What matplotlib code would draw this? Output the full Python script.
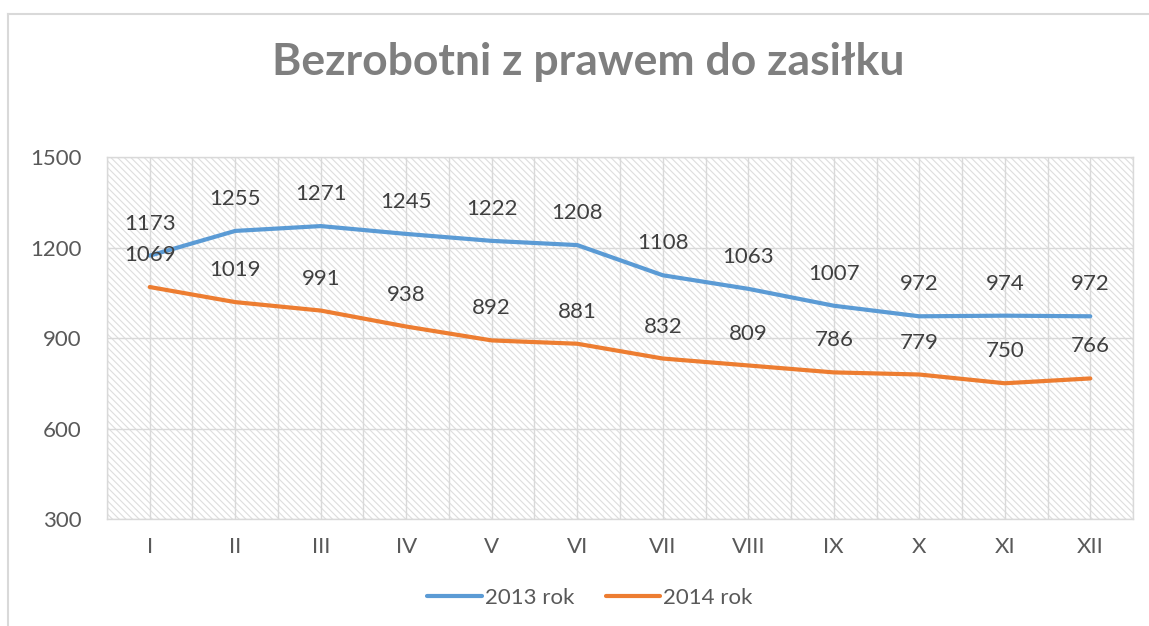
import matplotlib
matplotlib.use("Agg")
import matplotlib.pyplot as plt
from matplotlib.patches import Rectangle
from matplotlib.lines import Line2D

# data
months = ["I", "II", "III", "IV", "V", "VI", "VII", "VIII", "IX", "X", "XI", "XII"]
rok_2013 = [1173, 1255, 1271, 1245, 1222, 1208, 1108, 1063, 1007, 972, 974, 972]
rok_2014 = [1069, 1019, 991, 938, 892, 881, 832, 809, 786, 779, 750, 766]
y_ticks = [300, 600, 900, 1200, 1500]

plt.rcParams.update({
    "font.family": ["Lato", "DejaVu Sans"],
    "hatch.linewidth": 0.8,
})

GRID = "#d9d9d9"
TXT = "#595959"
FS = 16

fig = plt.figure(figsize=(11.49, 6.26), dpi=100)
ax = fig.add_axes([0.0931, 0.1709, 0.8930, 0.5783])

# hatched plot-area background
bg = Rectangle((0, 0), 1, 1, transform=ax.transAxes, facecolor="white",
               edgecolor="#dedede", hatch="\\\\\\\\\\", linewidth=0, zorder=0)
ax.add_patch(bg)

x = list(range(len(months)))
ax.plot(x, rok_2013, color="#5B9BD5", linewidth=3.0, solid_capstyle="round",
        zorder=3, label="2013 rok")
ax.plot(x, rok_2014, color="#ED7D31", linewidth=3.0, solid_capstyle="round",
        zorder=3, label="2014 rok")

for xi, v in zip(x, rok_2013):
    ax.annotate(f"{v}", (xi, v), textcoords="offset points", xytext=(0, 23),
                ha="center", va="center", fontsize=FS, color="#404040", zorder=4)
for xi, v in zip(x, rok_2014):
    ax.annotate(f"{v}", (xi, v), textcoords="offset points", xytext=(0, 23),
                ha="center", va="center", fontsize=FS, color="#404040", zorder=4)

ax.set_xlim(-0.5, len(months) - 0.5)
ax.set_ylim(300, 1500)
ax.set_yticks(y_ticks)
ax.set_xticks(x)
ax.set_xticklabels(months)
ax.set_xticks([i - 0.5 for i in range(len(months) + 1)], minor=True)
ax.tick_params(axis="both", which="both", length=0, labelsize=FS, colors=TXT)
ax.tick_params(axis="y", pad=18)
ax.tick_params(axis="x", pad=13)
ax.grid(True, which="both", axis="x", color=GRID, linewidth=1, zorder=1)
ax.grid(True, which="major", axis="y", color=GRID, linewidth=1, zorder=1)
ax.set_axisbelow(True)
for sp in ax.spines.values():
    sp.set_color(GRID)
    sp.set_linewidth(1)

fig.text(0.512, 0.901, "Bezrobotni z prawem do zasiłku", ha="center", va="center",
         fontsize=32, fontweight="bold", color="#7f7f7f")

handles = [Line2D([], [], color="#5B9BD5", linewidth=3.0, solid_capstyle="round"),
           Line2D([], [], color="#ED7D31", linewidth=3.0, solid_capstyle="round")]
fig.legend(handles, ["2013 rok", "2014 rok"], loc="center", bbox_to_anchor=(0.5135, 0.045),
           ncol=2, frameon=False, fontsize=FS, labelcolor=TXT, handlelength=2.45,
           handletextpad=0.15, columnspacing=1.4)

# outer chart frame (only top and left edges visible)
fig.add_artist(Line2D([8 / 1149, 8 / 1149], [0, 1 - 14 / 626], color=GRID, linewidth=1.5,
                      transform=fig.transFigure))
fig.add_artist(Line2D([8 / 1149, 1], [1 - 14 / 626, 1 - 14 / 626], color=GRID, linewidth=1.5,
                      transform=fig.transFigure))

fig.savefig("out.png", dpi=100)
